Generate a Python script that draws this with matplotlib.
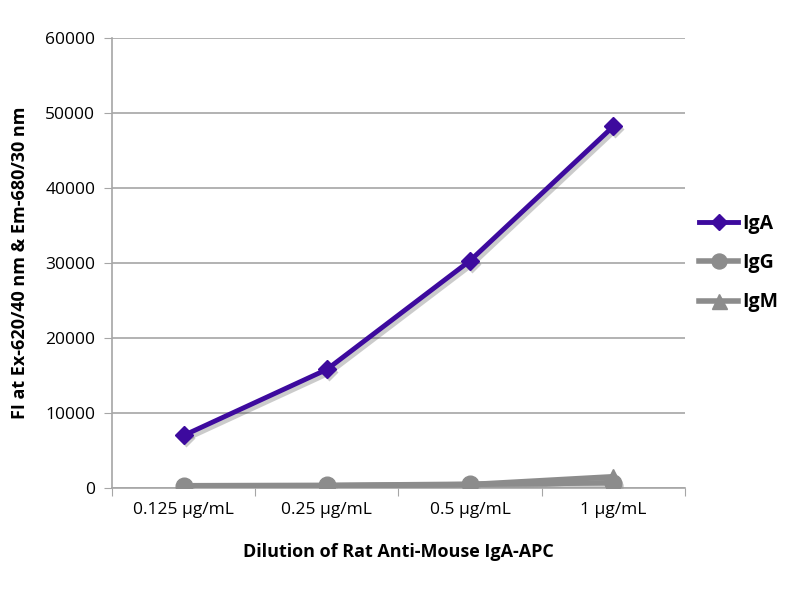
import matplotlib.pyplot as plt
from matplotlib.transforms import offset_copy

# --- Data ---
CATEGORIES = ["0.125 µg/mL", "0.25 µg/mL", "0.5 µg/mL", "1 µg/mL"]
IGA = [7000, 15800, 30300, 48200]
IGG = [300, 350, 500, 700]
IGM = [200, 300, 450, 1500]

# --- Styling ---
PURPLE = "#3D0A9E"
GREY = "#8C8C8C"
GRID = "#A6A6A6"
plt.rcParams["font.family"] = ["Open Sans", "DejaVu Sans"]

fig = plt.figure(figsize=(8, 6), dpi=100)
ax = fig.add_axes([0.14, 0.1867, 0.716, 0.75])
shadow_tr = offset_copy(ax.transData, fig=fig, x=2, y=-3, units="dots")

xs = list(range(len(CATEGORIES)))
series = [
    (IGM, GREY, "^", 12, 4, "IgM"),
    (IGG, GREY, "o", 12, 4, "IgG"),
    (IGA, PURPLE, "D", 9, 3.5, "IgA"),
]
handles = {}
for vals, col, mk, ms, lw, name in series:
    # soft drop shadow under each series
    ax.plot(xs, vals, color="#333333", alpha=0.25, lw=lw + 1, marker=mk, ms=ms,
            mec="none", transform=shadow_tr, zorder=2)
    handles[name], = ax.plot(xs, vals, color=col, lw=lw, marker=mk, ms=ms,
                             mec=col, label=name, zorder=3)

ax.set_xlim(-0.5, len(CATEGORIES) - 0.5)
ax.set_ylim(0, 60000)
ax.set_yticks(range(0, 60001, 10000))
ax.set_xticks([i - 0.5 for i in range(len(CATEGORIES) + 1)])
ax.set_xticklabels([])
ax.set_xticks(xs, minor=True)
ax.set_xticklabels(CATEGORIES, minor=True, fontsize=12.5)
ax.tick_params(axis="x", which="minor", length=0, pad=10)
ax.tick_params(axis="x", which="major", length=6, color=GRID, direction="out")
ax.tick_params(axis="y", length=6, color=GRID, labelsize=12.5, pad=6)

ax.grid(axis="y", color=GRID, lw=1.2)
ax.set_axisbelow(True)
for side in ("top", "right"):
    ax.spines[side].set_visible(False)
for side in ("left", "bottom"):
    ax.spines[side].set_color(GRID)
    ax.spines[side].set_linewidth(1.2)

ax.set_xlabel("Dilution of Rat Anti-Mouse IgA-APC", fontsize=13, fontweight="bold", labelpad=18)
ax.set_ylabel("FI at Ex-620/40 nm & Em-680/30 nm", fontsize=13, fontweight="bold", labelpad=12)

order = ["IgA", "IgG", "IgM"]
ax.legend([handles[n] for n in order], order, loc="center left", bbox_to_anchor=(0.995, 0.5),
          frameon=False, prop={"weight": "bold", "size": 14}, labelspacing=1.0,
          handlelength=2.0, handletextpad=0.2, markerscale=0.9)

fig.savefig("out.png", dpi=100)
